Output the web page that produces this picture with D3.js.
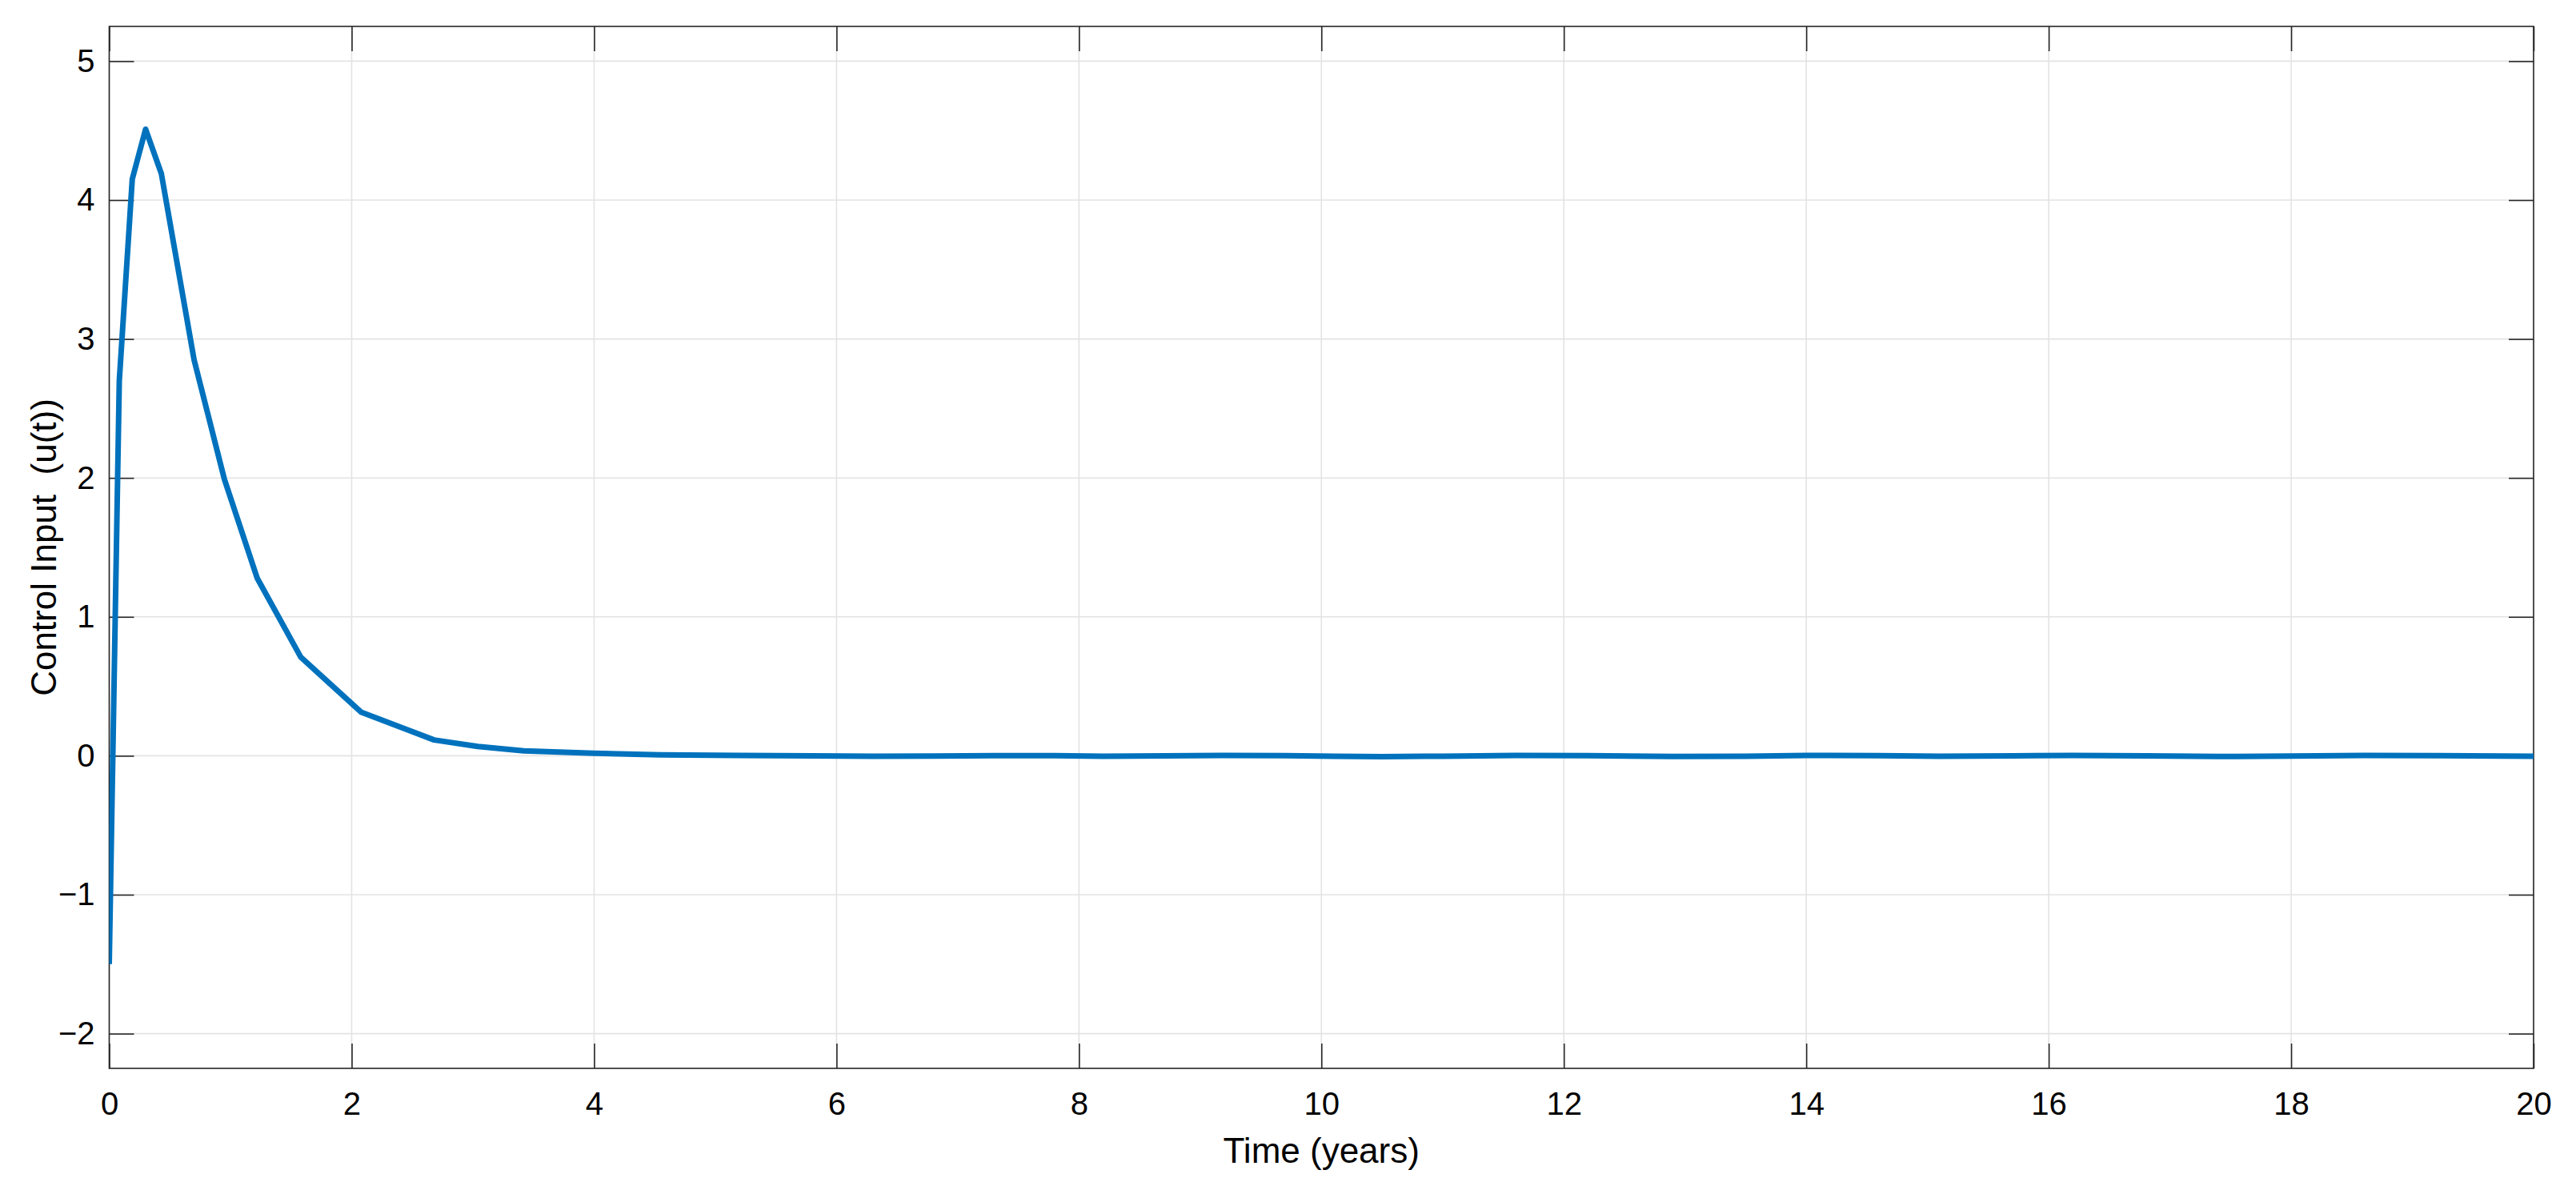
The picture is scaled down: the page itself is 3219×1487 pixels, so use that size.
<!DOCTYPE html>
<html>
<head>
<meta charset="utf-8">
<script src="https://cdn.jsdelivr.net/npm/d3@7"></script>
<style>
  html, body { margin: 0; padding: 0; background: #ffffff; }
  svg { display: block; }
  text { font-family: "Liberation Sans", Arial, Helvetica, sans-serif; fill: #000; white-space: pre; }
</style>
</head>
<body>
<script>
// ---- data ----
const timeYears = [0, 0.083, 0.19, 0.30, 0.43, 0.70, 0.95, 1.22, 1.58, 2.08, 2.68, 3.04, 3.42, 4.0, 4.55,
  5.2, 5.8, 6.3, 6.8, 7.3, 7.8, 8.2, 8.7, 9.2, 9.7, 10.1, 10.5, 11.0, 11.6, 12.2, 12.9, 13.5, 14.0,
  14.6, 15.1, 15.7, 16.2, 16.8, 17.4, 18.0, 18.6, 19.2, 20.0];
const controlInput = [-1.5, 2.7, 4.15, 4.51, 4.19, 2.85, 1.99, 1.28, 0.71, 0.313, 0.114, 0.067, 0.036, 0.018, 0.006,
  0.003, 0.0, -0.004, -0.002, 0.001, 0.001, -0.004, -0.001, 0.002, 0.001, -0.003, -0.006, -0.003, 0.002, 0.001, -0.005, -0.003, 0.002,
  0.001, -0.003, 0.000, 0.002, -0.001, -0.005, -0.002, 0.002, 0.001, -0.004];
const xTicks = [0, 2, 4, 6, 8, 10, 12, 14, 16, 18, 20];
const yTicks = [-2, -1, 0, 1, 2, 3, 4, 5];
const xLabel = "Time (years)";
const yLabel = "Control Input  (u(t))";

// ---- layout ----
const W = 3219, H = 1487;
const pL = 136.5, pR = 3166, pT = 33, pB = 1335;
const tickLen = 31;

const svg = d3.select("body").append("svg").attr("width", W).attr("height", H);

const x = d3.scaleLinear().domain([0, 20]).range([pL, pR]);
const y = d3.scaleLinear().domain([-2.25, 5.25]).range([pB, pT]);

// grid
const grid = svg.append("g").attr("stroke", "#e3e3e3").attr("stroke-width", 1.6);
grid.selectAll("line.gx").data(xTicks).join("line").attr("class", "gx")
  .attr("x1", d => x(d)).attr("x2", d => x(d)).attr("y1", pT).attr("y2", pB);
grid.selectAll("line.gy").data(yTicks).join("line").attr("class", "gy")
  .attr("y1", d => y(d)).attr("y2", d => y(d)).attr("x1", pL).attr("x2", pR);

// axes (ticks pointing inward on all four sides)
function styleAxis(g) {
  g.select(".domain").remove();
  g.selectAll(".tick line").attr("stroke", "#262626").attr("stroke-width", 1.6);
  g.selectAll(".tick text").attr("font-size", 40).attr("fill", "#000")
    .style("font-family", "'Liberation Sans', Arial, sans-serif");
}
const fmt = d3.format("");
svg.append("g").attr("transform", `translate(0,${pB})`)
  .call(d3.axisBottom(x).tickValues(xTicks).tickFormat(fmt).tickSizeInner(-tickLen).tickSizeOuter(0).tickPadding(30))
  .call(styleAxis);
svg.append("g").attr("transform", `translate(0,${pT})`)
  .call(d3.axisTop(x).tickValues(xTicks).tickFormat("").tickSizeInner(-tickLen).tickSizeOuter(0))
  .call(styleAxis);
svg.append("g").attr("transform", `translate(${pL},0)`)
  .call(d3.axisLeft(y).tickValues(yTicks).tickFormat(fmt).tickSizeInner(-tickLen).tickSizeOuter(0).tickPadding(18))
  .call(styleAxis);
svg.append("g").attr("transform", `translate(${pR},0)`)
  .call(d3.axisRight(y).tickValues(yTicks).tickFormat("").tickSizeInner(-tickLen).tickSizeOuter(0))
  .call(styleAxis);

// box
svg.append("rect").attr("x", pL).attr("y", pT).attr("width", pR - pL).attr("height", pB - pT)
  .attr("fill", "none").attr("stroke", "#262626").attr("stroke-width", 1.6);

// data line
const pts = timeYears.map((t, i) => [t, controlInput[i]]);
svg.append("defs").append("clipPath").attr("id", "clip")
  .append("rect").attr("x", pL).attr("y", pT).attr("width", pR - pL).attr("height", pB - pT);
svg.append("path").datum(pts)
  .attr("clip-path", "url(#clip)")
  .attr("fill", "none").attr("stroke", "#0072BD").attr("stroke-width", 7)
  .attr("stroke-linejoin", "round")
  .attr("d", d3.line().x(d => x(d[0])).y(d => y(d[1])));

// axis labels
svg.append("text").attr("x", (pL + pR) / 2).attr("y", 1453)
  .attr("text-anchor", "middle").attr("font-size", 44).text(xLabel);
svg.append("text").attr("transform", `translate(70,${(pT + pB) / 2}) rotate(-90)`)
  .attr("text-anchor", "middle").attr("font-size", 44).attr("xml:space", "preserve").text(yLabel);
</script>
</body>
</html>
